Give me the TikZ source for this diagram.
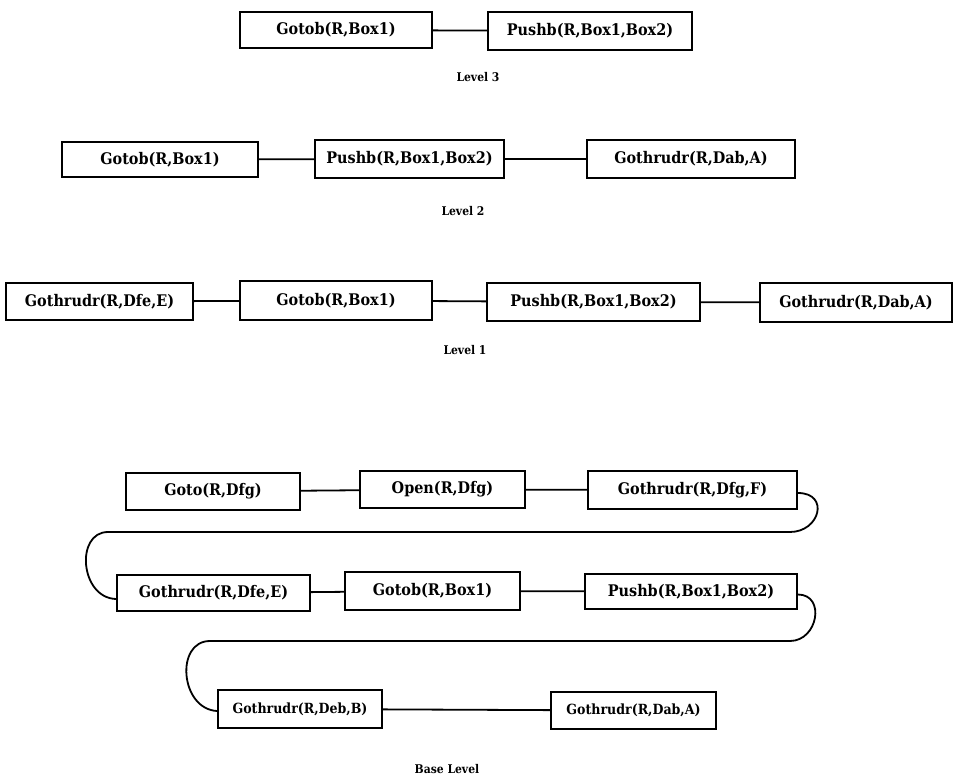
\documentclass[tikz,border=0pt]{standalone}
\usepackage{fontspec}
\setmainfont{DejaVu Serif Condensed}
\begin{document}
\begin{tikzpicture}[x=1pt,y=-1pt,
  op/.style={draw,line width=1.8pt,rectangle,inner sep=0pt,font=\fontsize{16}{19}\selectfont\bfseries},
  small/.style={font=\fontsize{14}{17}\selectfont\bfseries},
  lvl/.style={font=\fontsize{12}{14}\selectfont\bfseries},
  link/.style={line width=1.8pt},
  % a box given by its corners: #1 left, #2 top, #3 right, #4 bottom
  boxat/.style n args={4}{minimum width={#3-#1},minimum height={#4-#2},
    at={({(#1+#3)/2},{(#2+#4)/2})}}]
\useasboundingbox (0,0) rectangle (956,784);

% Level 3
\node[op,boxat={240}{12}{432}{48}] (a3) {Gotob(R,Box1)};
\node[op,boxat={488}{12}{692}{50}] (b3) {Pushb(R,Box1,Box2)};
\draw[link] (a3) -- (b3);
\node[lvl] (l3) at (478,77) {Level 3};

% Level 2
\node[op,boxat={62}{142}{258}{177}] (a2) {Gotob(R,Box1)};
\node[op,boxat={315}{140}{504}{178}] (b2) {Pushb(R,Box1,Box2)};
\node[op,boxat={587}{140}{795}{178}] (c2) {Gothrudr(R,Dab,A)};
\draw[link] (a2) -- (b2);
\draw[link] (b2) -- (c2);
\node[lvl] (l2) at (463,211) {Level 2};

% Level 1
\node[op,boxat={6}{283}{193}{320}] (a1) {Gothrudr(R,Dfe,E)};
\node[op,boxat={240}{281}{432}{320}] (b1) {Gotob(R,Box1)};
\node[op,boxat={487}{283}{700}{321}] (c1) {Pushb(R,Box1,Box2)};
\node[op,boxat={760}{283}{952}{322}] (d1) {Gothrudr(R,Dab,A)};
\draw[link] (a1) -- (b1);
\draw[link] (b1) -- (c1);
\draw[link] (c1) -- (d1);
\node[lvl] (l1) at (465,350) {Level 1};

% Base level
\node[op,boxat={126}{473}{300}{510}] (g1) {Goto(R,Dfg)};
\node[op,boxat={360}{471}{525}{508}] (g2) {Open(R,Dfg)};
\node[op,boxat={588}{471}{797}{509}] (g3) {Gothrudr(R,Dfg,F)};
\node[op,boxat={117}{575}{310}{611}] (g4) {Gothrudr(R,Dfe,E)};
\node[op,boxat={345}{572}{520}{610}] (g5) {Gotob(R,Box1)};
\node[op,boxat={585}{574}{797}{609}] (g6) {Pushb(R,Box1,Box2)};
\node[op,small,boxat={218}{690}{382}{728}] (g7) {Gothrudr(R,Deb,B)};
\node[op,small,boxat={551}{692}{716}{729}] (g8) {Gothrudr(R,Dab,A)};
\draw[link] (g1) -- (g2);
\draw[link] (g2) -- (g3);
\draw[link] (g4) -- (g5);
\draw[link] (g5) -- (g6);
\draw[link] (g7) -- (g8);

% turn-arounds between the rows
\coordinate (t1r) at (790,532);
\coordinate (t1l) at (108,532);
\coordinate (t2r) at (790,641);
\coordinate (t2l) at (210,641);
\draw[link] ([yshift=-3pt]g3.east) .. controls +(32,0) and (820,532) .. (t1r)
  -- (t1l) .. controls (75,532) and (80,598) .. ([yshift=-6pt]g4.west);
\draw[link] ([yshift=-3pt]g6.east) .. controls +(28,0) and (818,641) .. (t2r)
  -- (t2l) .. controls (175,641) and (180,709) .. ([yshift=-2pt]g7.west);

\node[lvl] (lb) at (447,769) {Base Level};
\end{tikzpicture}
\end{document}
